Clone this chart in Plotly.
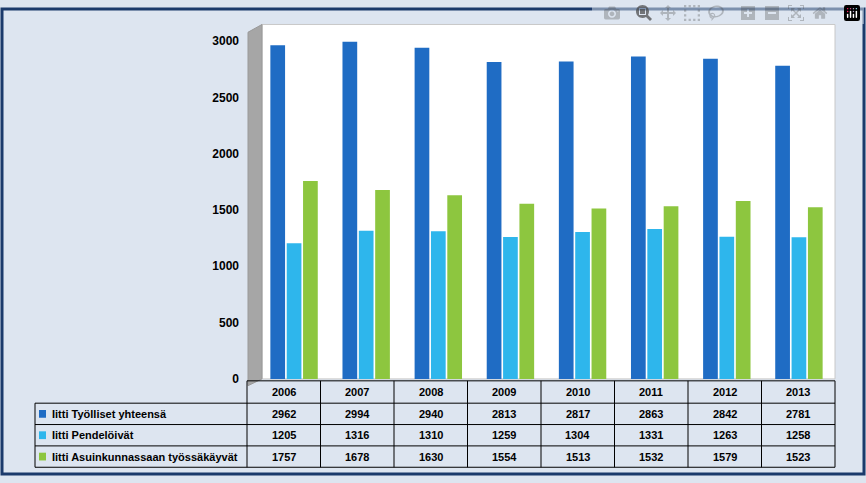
import plotly.graph_objects as go

years = ["2006","2007","2008","2009","2010","2011","2012","2013"]
tyolliset = [2962,2994,2940,2813,2817,2863,2842,2781]
pendeloivat = [1205,1316,1310,1259,1304,1331,1263,1258]
asuinkunnassaan = [1757,1678,1630,1554,1513,1532,1579,1523]
series_names = ["Iitti Työlliset yhteensä","Iitti Pendelöivät","Iitti Asuinkunnassaan työssäkäyvät"]
colors = ["#1f6cc4","#2eb6ec","#8dc63f"]
W, H = 866, 483

fig = go.Figure()
for name, vals, c in zip(series_names, [tyolliset, pendeloivat, asuinkunnassaan], colors):
    fig.add_bar(x=years, y=vals, name=name, marker=dict(color=c, line=dict(width=0)), showlegend=False)

def px(x): return x / W
def py(y): return 1 - y / H

shapes = [
    dict(type="rect", xref="paper", yref="paper", x0=px(2), x1=px(864), y0=py(481), y1=py(2),
         line=dict(color="#1b3a6b", width=3), fillcolor="#dde5f0", layer="below"),
    dict(type="rect", xref="paper", yref="paper", x0=px(262), x1=px(835), y0=py(383), y1=py(18),
         line=dict(color="#c8c8c8", width=1), fillcolor="white", layer="below"),
    dict(type="path", xref="paper", yref="paper",
         path=f"M {px(248)},{py(390)} L {px(262)},{py(383)} L {px(262)},{py(18)} L {px(248)},{py(26)} Z",
         line=dict(color="#999", width=1), fillcolor="#a6a6a6", layer="below"),
]
rows_y = [385, 408, 430, 452, 474]
col_x = [247 + i * (835 - 247) / 8 for i in range(9)]
for y in rows_y:
    x0 = 247 if y == 385 else 35
    shapes.append(dict(type="line", xref="paper", yref="paper", x0=px(x0), x1=px(835), y0=py(y), y1=py(y),
                       line=dict(color="#000", width=1)))
shapes.append(dict(type="line", xref="paper", yref="paper", x0=px(35), x1=px(35), y0=py(408), y1=py(474),
                   line=dict(color="#000", width=1)))
for x in col_x:
    shapes.append(dict(type="line", xref="paper", yref="paper", x0=px(x), x1=px(x), y0=py(385), y1=py(474),
                       line=dict(color="#000", width=1)))

ann = []
font = dict(family="Liberation Sans, Arial", size=11, color="#000")
for i, yr in enumerate(years):
    cx = (col_x[i] + col_x[i + 1]) / 2
    ann.append(dict(xref="paper", yref="paper", x=px(cx), y=py(396.5), xanchor="center", yanchor="middle",
                    text=f"<b>{yr}</b>", showarrow=False, font=font))
    for r, vals in enumerate([tyolliset, pendeloivat, asuinkunnassaan]):
        cy = (rows_y[r + 1] + rows_y[r + 2]) / 2
        ann.append(dict(xref="paper", yref="paper", x=px(cx), y=py(cy), xanchor="center", yanchor="middle",
                        text=f"<b>{vals[i]}</b>", showarrow=False, font=font))
for r, (name, c) in enumerate(zip(series_names, colors)):
    cy = (rows_y[r + 1] + rows_y[r + 2]) / 2
    shapes.append(dict(type="rect", xref="paper", yref="paper", x0=px(39), x1=px(46), y0=py(cy + 4), y1=py(cy - 4),
                       fillcolor=c, line=dict(width=0)))
    ann.append(dict(xref="paper", yref="paper", x=px(50), y=py(cy), xanchor="left", yanchor="middle",
                    text=f"<b>{name}</b>", showarrow=False, font=font))

fig.update_layout(
    width=W, height=H, margin=dict(l=0, r=0, t=0, b=0),
    paper_bgcolor="#dde5f0", plot_bgcolor="rgba(0,0,0,0)",
    barmode="group", bargap=0.32, bargroupgap=0.1,
    xaxis=dict(domain=[px(258), px(835)], showticklabels=False, showgrid=False, zeroline=False),
    yaxis=dict(domain=[py(383), py(35)], range=[0, 3000], dtick=500, showgrid=False, zeroline=False,
               tickfont=dict(family="Liberation Sans, Arial", size=12, color="#000"), ticklabelstandoff=18,
               tickprefix="<b>", ticksuffix="</b>"),
    shapes=shapes, annotations=ann,
)
fig.write_html("out.html", post_script="document.body.style.margin='0';document.body.style.overflow='hidden';")
